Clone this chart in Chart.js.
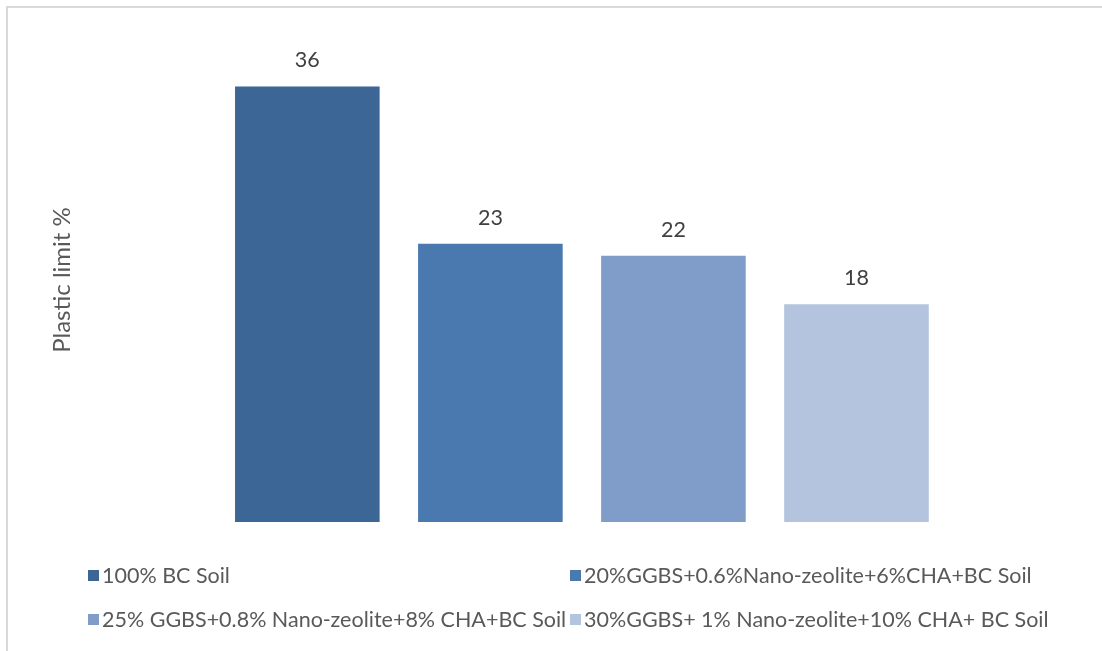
<!DOCTYPE html>
<html>
<head>
<meta charset="utf-8">
<script src="https://cdn.jsdelivr.net/npm/chart.js@4"></script>
<style>
  html, body { margin: 0; padding: 0; background: #fff; overflow: hidden; }
  #frame {
    position: absolute; left: 6px; top: 6px; width: 1200px; height: 800px;
    border-left: 2px solid #d9d9d9; border-top: 2px solid #d9d9d9;
  }
  #wrap { position: absolute; left: 0; top: 0; width: 1102px; height: 651px; }
  #legend {
    position: absolute; left: 88px; top: 561px;
    display: grid; grid-template-columns: 482px auto; row-gap: 16px;
    font-family: Lato, sans-serif; font-size: 21.5px; color: #595959;
  }
  .item { display: flex; align-items: center; height: 28px; white-space: nowrap; }
  .swatch { width: 11px; height: 11px; margin-right: 3px; }
</style>
</head>
<body>
<div id="frame"></div>
<div id="wrap"><canvas id="plasticLimit" width="1102" height="651"></canvas></div>
<div id="legend"></div>
<script>
  const mixes = [
    '100% BC Soil',
    '20%GGBS+0.6%Nano-zeolite+6%CHA+BC Soil',
    '25% GGBS+0.8% Nano-zeolite+8% CHA+BC Soil',
    '30%GGBS+ 1% Nano-zeolite+10% CHA+ BC Soil'
  ];
  const plasticLimit = [36, 23, 22, 18];
  const colors = ['#3c6695', '#4a79b0', '#7f9dc8', '#b4c3de'];
  const yTicks = [0, 10, 20, 30, 40];

  // one dataset per mix, each sitting in its own slot
  const datasets = mixes.map((name, i) => ({
    label: name,
    data: mixes.map((_, j) => (j === i ? plasticLimit[i] : null)),
    backgroundColor: colors[i],
    borderWidth: 0
  }));

  // value above each bar
  const valueLabels = {
    id: 'valueLabels',
    afterDatasetsDraw(chart) {
      const ctx = chart.ctx;
      ctx.save();
      ctx.font = '21.5px Lato, sans-serif';
      ctx.fillStyle = '#404040';
      ctx.textAlign = 'center';
      ctx.textBaseline = 'middle';
      chart.data.datasets.forEach((ds, i) => {
        chart.getDatasetMeta(i).data.forEach((bar, j) => {
          const v = ds.data[j];
          if (v === null) return;
          ctx.fillText(String(v), bar.x, bar.y - 26);
        });
      });
      ctx.restore();
    }
  };

  new Chart(document.getElementById('plasticLimit'), {
    type: 'bar',
    data: { labels: mixes, datasets },
    options: {
      responsive: false,
      animation: false,
      layout: { padding: { left: 48, right: 154, top: 38, bottom: 129 } },
      datasets: { bar: { skipNull: true, categoryPercentage: 1, barPercentage: 0.79 } },
      scales: {
        x: { display: false, stacked: false },
        y: {
          min: yTicks[0],
          max: yTicks[yTicks.length - 1],
          afterBuildTicks: (axis) => { axis.ticks = yTicks.map(v => ({ value: v })); },
          ticks: { display: false },
          grid: { display: false },
          border: { display: false },
          title: {
            display: true,
            text: 'Plastic limit %',
            color: '#595959',
            font: { family: 'Lato, sans-serif', size: 24 },
            padding: { top: 0, bottom: 131 }
          }
        }
      },
      plugins: {
        legend: { display: false },
        tooltip: { enabled: false }
      }
    },
    plugins: [valueLabels]
  });

  const legend = document.getElementById('legend');
  mixes.forEach((name, i) => {
    const item = document.createElement('div');
    item.className = 'item';
    const sw = document.createElement('span');
    sw.className = 'swatch';
    sw.style.background = colors[i];
    const txt = document.createElement('span');
    txt.textContent = name;
    item.appendChild(sw);
    item.appendChild(txt);
    legend.appendChild(item);
  });
</script>
</body>
</html>
